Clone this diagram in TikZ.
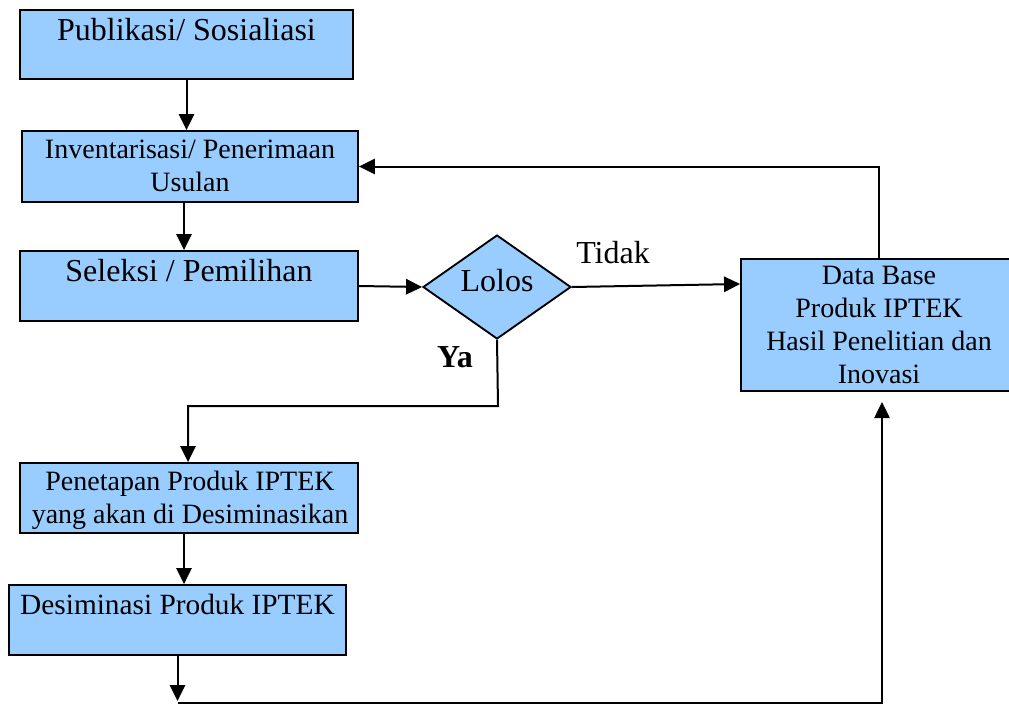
\documentclass[tikz,border=0pt]{standalone}
\usepackage{fontspec}
\setmainfont{Liberation Serif}
\usetikzlibrary{shapes.geometric,arrows.meta}
\definecolor{boxblue}{HTML}{99CCFF}
\begin{document}
\begin{tikzpicture}[x=0.75pt,y=-0.75pt,
  box/.style={draw=black,line width=1.4pt,fill=boxblue,inner sep=0pt},
  big/.style={font=\fontsize{24}{30}\selectfont,inner sep=0pt},
  med/.style={font=\fontsize{21}{24.6}\selectfont,inner sep=0pt,align=center},
  arr/.style={line width=1.5pt,-{Triangle[length=12pt,width=11.5pt]}},
  ln/.style={line width=1.4pt}]
\useasboundingbox (0,0) rectangle (1009,704);
% boxes
\node[box,minimum width=333*0.75pt,minimum height=69*0.75pt] (pub) at (186.5,44.5) {};
\node[box,minimum width=336*0.75pt,minimum height=71*0.75pt] (inv) at (190,166.5) {};
\node[box,minimum width=338*0.75pt,minimum height=70*0.75pt] (sel) at (189,286) {};
\node[draw=black,line width=1.4pt,fill=boxblue,diamond,inner sep=0pt,
      minimum width=148*0.75pt,minimum height=104*0.75pt] (lolos) at (497,287) {};
\node[box,minimum width=276*0.75pt,minimum height=132*0.75pt] (db) at (879,325) {};
\node[box,minimum width=338*0.75pt,minimum height=70*0.75pt] (pen) at (189,498) {};
\node[box,minimum width=337*0.75pt,minimum height=70*0.75pt] (des) at (177.5,620) {};
% texts
\node[big,anchor=base] (tpub) at (186.5,40) {Publikasi/ Sosialiasi};
\node[med] (tinv) at (190,166) {Inventarisasi/ Penerimaan\\Usulan};
\node[big,anchor=base] (tsel) at (189,281) {Seleksi / Pemilihan};
\node[big,anchor=base] (tlol) at (497,291) {Lolos};
\node[big,anchor=base] (ttid) at (613,263) {Tidak};
\node[big,anchor=base,font=\fontsize{24}{30}\selectfont\bfseries] (tya) at (455,367) {Ya};
\node[med] (tdb) at (879,325) {Data Base\\Produk IPTEK\\Hasil Penelitian dan\\Inovasi};
\node[med] (tpen) at (190,500) {Penetapan Produk IPTEK\\yang akan di Desiminasikan};
\node[big,anchor=base,font=\fontsize{22}{28}\selectfont] (tdes) at (177.5,614) {Desiminasi Produk IPTEK};
% connectors
\draw[arr] (pub.south) -- (pub.south |- inv.north);
\draw[arr] ([xshift=-4.5pt]inv.south) -- ([xshift=-4.5pt]inv.south |- sel.north);
\draw[arr] (sel.east) -- (lolos.west);
\coordinate (dbin) at ([yshift=30.75pt]db.west);
\draw[arr] (lolos.east) -- (dbin);
\draw[arr] (db.north) |- (inv.east);
\coordinate (ya1) at (498,406);
\draw[arr] (lolos.south) -- (ya1) -| ([xshift=-0.75pt]pen.north);
\draw[arr] ([xshift=-3.75pt]pen.south) -- ([xshift=-3.75pt]pen.south |- des.north);
\coordinate (bot) at (177.5,701);
\draw[arr] (des.south) -- (bot);
\coordinate (botL) at (177.5,703);
\coordinate (botR) at (882,703);
\coordinate (dbtip) at (882,402);
\draw[line width=1.1pt,-{Triangle[length=12pt,width=11.5pt]}] (botL) -- (botR) -- (dbtip);
\end{tikzpicture}
\end{document}
